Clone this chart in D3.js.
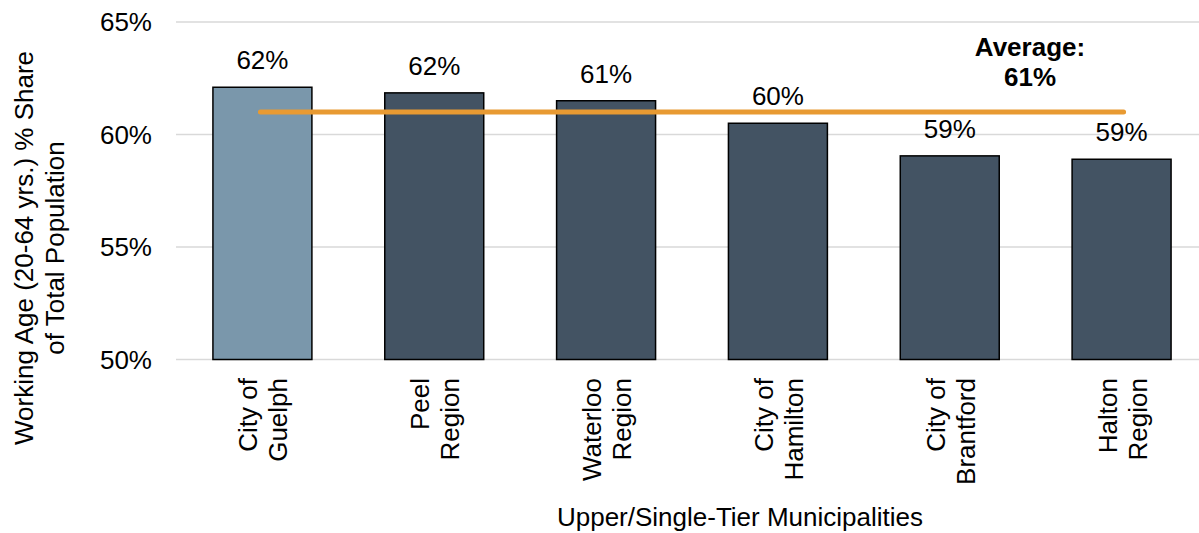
<!DOCTYPE html>
<html><head><meta charset="utf-8">
<script src="https://cdn.jsdelivr.net/npm/d3@7"></script>
<style>body{margin:0;background:#fff}svg{display:block;font-family:Arial,"Liberation Sans",sans-serif}</style>
</head><body><svg id="c" width="1199" height="533"></svg>
<script>
const categories = [["City of","Guelph"],["Peel","Region"],["Waterloo","Region"],["City of","Hamilton"],["City of","Brantford"],["Halton","Region"]];
const values = [62.1, 61.85, 61.5, 60.5, 59.05, 58.9];
const labels = ["62%","62%","61%","60%","59%","59%"];
const average = 61.0;
const yTicks = [50, 55, 60, 65];

const FS = 26;
const svg = d3.select("#c");
const keys = categories.map(c => c.join(" "));
const x = d3.scaleBand().domain(keys).range([176.5, 1207.5]).paddingInner(0.424).paddingOuter(0.212);
const y = d3.scaleLinear().domain([50, 65]).range([359.5, 22]);

// gridlines
svg.append("g").selectAll("line").data(yTicks).join("line")
  .attr("x1", 176).attr("x2", 1199).attr("y1", d => y(d)).attr("y2", d => y(d))
  .attr("stroke", "#d9d9d9").attr("stroke-width", 1.5);

// y tick labels
svg.append("g").selectAll("text").data(yTicks).join("text")
  .attr("x", 152).attr("y", d => y(d)).attr("dy", "0.35em")
  .attr("text-anchor", "end").attr("font-size", FS).attr("fill", "#000")
  .text(d => d + "%");

// bars
svg.append("g").selectAll("rect").data(values).join("rect")
  .attr("x", (d, i) => x(keys[i])).attr("width", x.bandwidth())
  .attr("y", d => y(d)).attr("height", d => y(50) - y(d))
  .attr("fill", (d, i) => i === 0 ? "#7a97ab" : "#435363")
  .attr("stroke", "#000").attr("stroke-width", 1.5);

// value labels
svg.append("g").selectAll("text").data(values).join("text")
  .attr("x", (d, i) => x(keys[i]) + x.bandwidth() / 2).attr("y", d => y(d) - 18)
  .attr("text-anchor", "middle").attr("font-size", FS).attr("fill", "#000")
  .text((d, i) => labels[i]);

// average line
svg.append("line")
  .attr("x1", x(keys[0]) + x.bandwidth() / 2 - 2).attr("x2", x(keys[5]) + x.bandwidth() / 2 + 2)
  .attr("y1", y(average)).attr("y2", y(average))
  .attr("stroke", "#e89a32").attr("stroke-width", 5).attr("stroke-linecap", "round");

const avg = svg.append("text").attr("text-anchor", "middle").attr("font-size", FS).attr("font-weight", "bold").attr("fill", "#000");
avg.append("tspan").attr("x", 1030).attr("y", 56).text("Average:");
avg.append("tspan").attr("x", 1030).attr("y", 86).text(average.toFixed(0) + "%");

// category labels
categories.forEach((c, i) => {
  const cx = x(keys[i]) + x.bandwidth() / 2;
  const t = svg.append("text").attr("transform", `translate(${cx},378) rotate(-90)`)
    .attr("text-anchor", "end").attr("font-size", FS).attr("fill", "#000");
  t.append("tspan").attr("x", 0).attr("y", -5).text(c[0]);
  t.append("tspan").attr("x", 0).attr("y", 25).text(c[1]);
});

// axis titles
svg.append("text").attr("x", 740).attr("y", 526).attr("text-anchor", "middle")
  .attr("font-size", FS).attr("fill", "#000").text("Upper/Single-Tier Municipalities");

const yt = svg.append("text").attr("transform", "translate(0,248) rotate(-90)")
  .attr("text-anchor", "middle").attr("font-size", FS).attr("fill", "#000");
yt.append("tspan").attr("x", 0).attr("y", 33).text("Working Age (20-64 yrs.) % Share");
yt.append("tspan").attr("x", 0).attr("y", 64).text("of Total Population");
</script></body></html>
